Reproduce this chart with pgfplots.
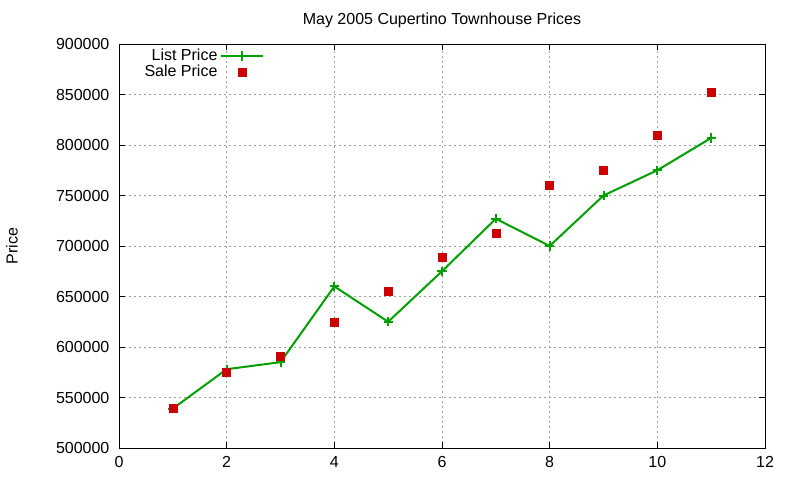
\documentclass[border=0pt,12pt]{standalone}
\usepackage{fontspec}
\setmainfont{Liberation Sans}
\usepackage{pgfplots}
\pgfplotsset{compat=1.18}

\definecolor{listgreen}{HTML}{00A000}
\definecolor{salered}{HTML}{CC0000}
\definecolor{gridgray}{HTML}{A0A0A0}

\begin{document}
\begin{tikzpicture}
\path[use as bounding box] (0pt,0pt) rectangle (600pt,360pt);
\begin{axis}[
  at={(89.25pt,24pt)}, anchor=south west,
  scale only axis,
  width=484.5pt, height=303pt,
  xmin=0, xmax=12, ymin=500000, ymax=900000,
  xtick={0,2,...,12},
  ytick={500000,550000,...,900000},
  scaled y ticks=false,
  /pgf/number format/assume math mode=true,
  y tick label style={/pgf/number format/fixed, /pgf/number format/1000 sep={}, xshift=-3pt},
  x tick label style={yshift=-2pt},
  tick align=inside,
  major tick length=4.5pt,
  tick style={black, line width=0.75pt},
  axis line style={black, line width=0.75pt},
  grid=major,
  grid style={gridgray, line width=0.6pt, dash pattern=on 1.5pt off 2.25pt},
  legend style={draw=none, fill=none, at={(rel axis cs:0.035,0.995)}, anchor=north west,
    row sep=-2.5pt, inner sep=0pt},
  legend cell align=right,
  legend plot pos=right,
]
\addplot[listgreen, line width=1.5pt, mark=+, mark size=3.5pt,
  legend image code/.code={\draw[mark repeat=2,mark phase=2] plot coordinates {(3pt,0pt) (18.75pt,0pt) (34.5pt,0pt)};}]
  coordinates {
  (1,539000) (2,578000) (3,585000) (4,660000) (5,625000) (6,675000)
  (7,727000) (8,700000) (9,750000) (10,775000) (11,807000)
  };
\addlegendentry{List Price}
\addplot[only marks, mark=square*, mark size=3pt, salered, mark options={fill=salered, draw=salered},
  legend image code/.code={\draw[only marks, mark repeat=2, mark phase=2] plot coordinates {(3pt,0pt) (18.75pt,0pt) (34.5pt,0pt)};}]
  coordinates {
  (1,539000) (2,575000) (3,591000) (4,624000) (5,655000) (6,689000)
  (7,713000) (8,760000) (9,775000) (10,810000) (11,852000)
  };
\addlegendentry{Sale Price}
\end{axis}
\node at (331.5pt,345pt) {May 2005 Cupertino Townhouse Prices};
\node[rotate=90] at (9pt,175.5pt) {Price};
\end{tikzpicture}
\end{document}
